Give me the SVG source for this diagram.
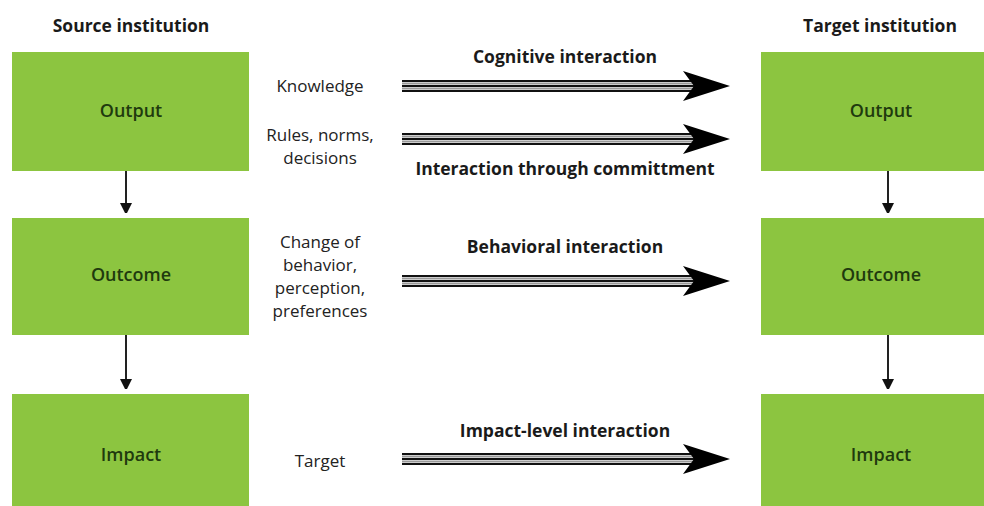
<svg xmlns="http://www.w3.org/2000/svg" width="984" height="506" viewBox="0 0 984 506">
<defs>
<style>
.box{fill:#8cc540;}
.bl{font-family:"Open Sans","Liberation Sans",sans-serif;font-size:18px;font-weight:600;fill:#1f3a0e;text-anchor:middle;}
.hd{font-family:"Open Sans","Liberation Sans",sans-serif;font-size:17.5px;font-weight:bold;fill:#1a1a1a;text-anchor:middle;}
.lab{font-family:"Open Sans","Liberation Sans",sans-serif;font-size:17px;fill:#222;text-anchor:middle;}
.il{font-family:"Open Sans","Liberation Sans",sans-serif;font-size:17.5px;font-weight:bold;fill:#1a1a1a;text-anchor:middle;}
.v{stroke:#222;stroke-width:2;fill:none;}
.t{stroke:#111;stroke-width:2;}
.g{stroke:#999;stroke-width:2;}
</style>
<marker id="ah" markerWidth="10" markerHeight="12" refX="5" refY="6" orient="auto" markerUnits="userSpaceOnUse">
<path d="M0,0 L12,6 L0,12 z" fill="#111"/>
</marker>
<g id="tri">
<line class="t" x1="0" y1="-5" x2="292" y2="-5"/>
<line class="g" x1="0" y1="-2.5" x2="292" y2="-2.5"/>
<line class="t" x1="0" y1="0" x2="292" y2="0"/>
<line class="g" x1="0" y1="2.5" x2="292" y2="2.5"/>
<line class="t" x1="0" y1="5" x2="292" y2="5"/>
<path d="M281,-15 L328,0 L281,15 L292,0 z" fill="#000"/>
</g>
</defs>
<rect width="984" height="506" fill="#fff"/>
<text class="hd" x="131" y="32">Source institution</text>
<text class="hd" x="880" y="32">Target institution</text>
<g id="src-output"><rect class="box" x="12" y="52" width="237" height="119"/><text class="bl" x="131" y="117">Output</text></g>
<g id="src-outcome"><rect class="box" x="12" y="218" width="237" height="117"/><text class="bl" x="131" y="281">Outcome</text></g>
<g id="src-impact"><rect class="box" x="12" y="394" width="237" height="112"/><text class="bl" x="131" y="461">Impact</text></g>
<g id="tgt-output"><rect class="box" x="761" y="52" width="240" height="119"/><text class="bl" x="881" y="117">Output</text></g>
<g id="tgt-outcome"><rect class="box" x="761" y="218" width="240" height="117"/><text class="bl" x="881" y="281">Outcome</text></g>
<g id="tgt-impact"><rect class="box" x="761" y="394" width="240" height="112"/><text class="bl" x="881" y="461">Impact</text></g>
<g id="labels">
<text class="lab" x="320" y="92">Knowledge</text>
<text class="lab" x="320" y="141">Rules, norms,</text>
<text class="lab" x="320" y="164">decisions</text>
<text class="lab" x="320" y="248">Change of</text>
<text class="lab" x="320" y="271">behavior,</text>
<text class="lab" x="320" y="294">perception,</text>
<text class="lab" x="320" y="317">preferences</text>
<text class="lab" x="320" y="467">Target</text>
<text class="il" x="565" y="63">Cognitive interaction</text>
<text class="il" x="565" y="175">Interaction through committment</text>
<text class="il" x="565" y="253">Behavioral interaction</text>
<text class="il" x="565" y="437">Impact-level interaction</text>
</g>
<g id="connectors">
<line class="v" x1="126" y1="171" x2="126" y2="208" marker-end="url(#ah)"/>
<line class="v" x1="126" y1="335" x2="126" y2="384" marker-end="url(#ah)"/>
<line class="v" x1="888" y1="171" x2="888" y2="208" marker-end="url(#ah)"/>
<line class="v" x1="888" y1="335" x2="888" y2="384" marker-end="url(#ah)"/>
<use href="#tri" x="402" y="86"/>
<use href="#tri" x="402" y="139"/>
<use href="#tri" x="402" y="281"/>
<use href="#tri" x="402" y="459"/>
</g>
</svg>
